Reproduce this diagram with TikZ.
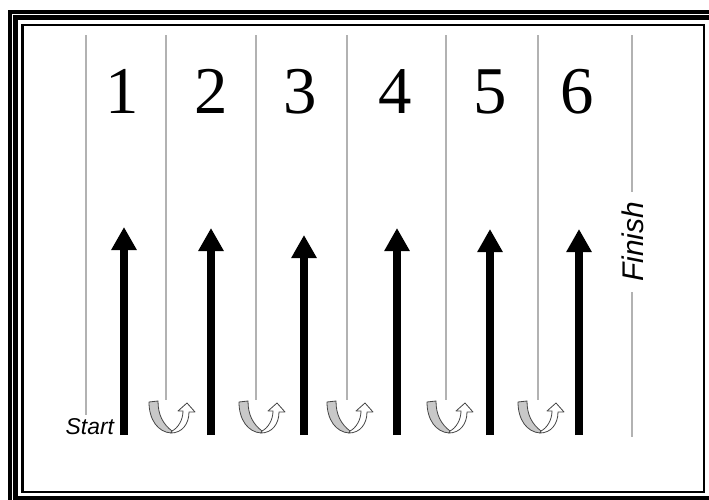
\documentclass[tikz,border=0pt]{standalone}
\usepackage{fontspec}
\setmainfont{Liberation Serif}
\newfontfamily\lanesans{Liberation Sans}
\usepackage{tikz}
\usetikzlibrary{arrows.meta}
\definecolor{LaneGray}{RGB}{178,178,178}
\definecolor{TurnFill}{RGB}{200,200,200}
\definecolor{TurnLine}{RGB}{70,70,70}

\tikzset{
  uturn/.pic={
    \draw[TurnLine, fill=TurnFill, line width=0.008cm, line join=round]
      (0,0) .. controls (0,18) and (9,30) .. (22,31)
      -- (23,29) .. controls (14,22) and (9,13) .. (9,-1) -- cycle;
    \draw[TurnLine, fill=white, line width=0.008cm, line join=round]
      (22,31) .. controls (33,31) and (40,22) .. (40,10)
      -- (46,10) -- (38,1) -- (29,9) -- (34,9)
      .. controls (34,18) and (29,26) .. (23,29) -- cycle;
  }
}

\begin{document}
\begin{tikzpicture}[x=0.01cm,y=-0.01cm,
    lane/.style={draw=LaneGray, line width=0.011cm},
    lanenum/.style={font=\fontsize{19}{19}\selectfont, anchor=base, inner sep=0pt},
    runarrow/.style={line width=0.08cm, -{Triangle[length=0.23cm,width=0.24cm]}},
    endlabel/.style={font=\lanesans\itshape\fontsize{8.5}{8.5}\selectfont, inner sep=0pt}
  ]
    \useasboundingbox (0,0) rectangle (709,500);
    \clip (0,0) rectangle (709,500);
    \fill[white] (0,0) rectangle (709,500);
    \draw[line width=0.035cm] (10,12) rectangle (725,515);
    \draw[line width=0.04cm] (15.5,17.5) rectangle (716,498);
    \draw[line width=0.025cm] (22.5,25) rectangle (704,492);
    \draw[lane] (86,35) -- (86,415);
    \foreach \x in {166,256,347,446,538} {\draw[lane] (\x,35) -- (\x,400);}
    \draw[lane] (632,35) -- (632,437);
    \foreach \i/\x in {1/122,2/211,3/300,4/395,5/490,6/577} {\node[lanenum] (n\i) at (\x,113) {\i};}
    \foreach \i/\x/\t in {1/124/227,2/211/228,3/304/235,4/397/228,5/490/229,6/579/229} {
      \coordinate (a\i) at (\x,435);
      \coordinate (b\i) at (\x,\t);
      \draw[runarrow] (a\i) -- (b\i);
    }
    \foreach \i/\x in {1/149,2/239,3/327,4/427,5/518} {\pic (u\i) at (\x,402) {uturn};}
    \node[endlabel, font=\lanesans\itshape\fontsize{6.5}{6.5}\selectfont, anchor=base west] (start) at (65,434) {Start};
    \node[endlabel, fill=white, rotate=90, inner xsep=0.1cm, inner ysep=1pt] (finish) at (633,242) {Finish};
  \end{tikzpicture}
\end{document}
